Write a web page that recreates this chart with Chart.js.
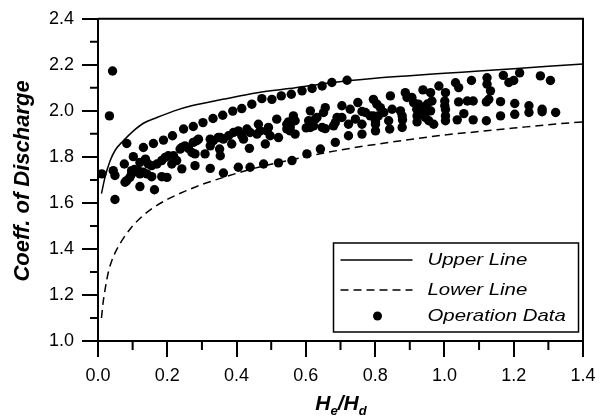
<!DOCTYPE html>
<html lang="en">
<head>
  <meta charset="UTF-8">
  <title>Coeff. of Discharge</title>
  <style>
    html, body {
      margin: 0;
      padding: 0;
      background: white;
    }
    .chart-container {
      width: 605px;
      height: 418px;
    }
  </style>
</head>
<body>
  <div class="chart-container">
    <canvas id="cd-chart"></canvas>
  </div>

  <script src="https://cdn.jsdelivr.net/npm/chart.js@4.4.1/dist/chart.umd.min.js"></script>
  <script>
    // upper / lower envelope lines
    const UPPER_X = [0.01, 0.02, 0.035, 0.05, 0.073, 0.1, 0.13, 0.17, 0.22, 0.27, 0.36, 0.46, 0.57, 0.67, 0.8, 0.9, 1.0, 1.1, 1.2, 1.3, 1.4];
    const UPPER_Y = [1.64, 1.71, 1.783, 1.83, 1.87, 1.91, 1.945, 1.971, 2.0, 2.022, 2.05, 2.079, 2.10, 2.122, 2.142, 2.153, 2.163, 2.173, 2.183, 2.194, 2.204];

    const LOWER_X = [0.01, 0.015, 0.02, 0.03, 0.04, 0.055, 0.075, 0.1, 0.13, 0.16, 0.2, 0.25, 0.3, 0.36, 0.45, 0.55, 0.7, 0.85, 1.0, 1.1, 1.2, 1.3, 1.4];
    const LOWER_Y = [1.10, 1.17, 1.22, 1.30, 1.35, 1.40, 1.45, 1.50, 1.545, 1.58, 1.615, 1.65, 1.68, 1.71, 1.75, 1.785, 1.83, 1.865, 1.895, 1.91, 1.925, 1.94, 1.952];

    // operation data (He/Hd, Cd)
    const OP_X = [
      0.011, 0.042, 0.033, 0.049, 0.083, 0.044, 0.049, 0.076, 0.102, 0.097,
      0.097, 0.092, 0.083, 0.078, 0.121, 0.121, 0.116, 0.131, 0.121, 0.163,
      0.131, 0.160, 0.189, 0.215, 0.145, 0.155, 0.170, 0.184, 0.194, 0.203,
      0.213, 0.141, 0.155, 0.184, 0.199, 0.218, 0.227, 0.242,
      0.247, 0.275, 0.303, 0.332, 0.360, 0.389, 0.415, 0.444,
      0.242, 0.251, 0.261, 0.271, 0.280, 0.275, 0.285, 0.324, 0.333, 0.353,
      0.362, 0.377, 0.391, 0.405, 0.415, 0.430, 0.439, 0.324, 0.386, 0.309,
      0.351, 0.353, 0.437, 0.280, 0.324, 0.362, 0.405, 0.439,
      0.473, 0.502, 0.529, 0.558, 0.589, 0.618, 0.647, 0.675, 0.613, 0.656,
      0.651, 0.516, 0.550, 0.564, 0.569, 0.608, 0.618, 0.627, 0.622, 0.647,
      0.656, 0.685, 0.690, 0.680, 0.463, 0.468, 0.459, 0.492, 0.497, 0.483,
      0.521, 0.545, 0.555, 0.569, 0.601, 0.478, 0.521, 0.560, 0.603, 0.642,
      0.685,
      0.719, 0.704, 0.728, 0.750, 0.704, 0.723, 0.743, 0.762, 0.723, 0.762,
      0.795, 0.805, 0.815, 0.825, 0.809, 0.786, 0.772, 0.801, 0.801, 0.844,
      0.849, 0.839, 0.842, 0.873, 0.878, 0.879, 0.878, 0.887, 0.892, 0.906,
      0.911, 0.938, 0.925, 0.930, 0.920, 0.940, 0.921, 0.921, 0.945, 0.955,
      0.960, 0.951, 0.964, 0.960, 0.969, 0.984, 1.003, 1.001, 1.001, 1.003,
      1.003, 1.032, 1.041, 1.041, 1.066, 1.083, 1.037, 1.056, 1.083, 1.078,
      1.121, 1.123, 1.123, 1.133, 1.128, 1.121, 1.162, 1.162, 1.170, 1.186,
      1.200, 1.203, 1.203, 1.217, 1.244, 1.244, 1.277, 1.282, 1.282, 1.306,
      1.321, 1.003,
      0.545, 0.555, 0.632, 0.613, 0.762, 0.801, 0.795, 0.347, 0.237, 0.290,
      0.137, 0.105, 0.420, 0.488
    ];
    const OP_Y = [
      1.726, 2.173, 1.978, 1.615, 1.858, 1.740, 1.719, 1.769, 1.801, 1.740,
      1.726, 1.711, 1.697, 1.690, 1.776, 1.726, 1.740, 1.733, 1.671, 1.657,
      1.841, 1.858, 1.873, 1.892, 1.769, 1.762, 1.769, 1.784, 1.798, 1.805,
      1.769, 1.726, 1.714, 1.714, 1.711, 1.805, 1.784, 1.748,
      1.921, 1.932, 1.949, 1.967, 1.981, 1.999, 2.010, 2.029,
      1.841, 1.848, 1.837, 1.819, 1.813, 1.863, 1.870, 1.877, 1.870, 1.884,
      1.877, 1.892, 1.906, 1.913, 1.892, 1.921, 1.906, 1.848, 1.856, 1.813,
      1.834, 1.805, 1.837, 1.762, 1.750, 1.730, 1.755, 1.755,
      2.053, 2.050, 2.065, 2.072, 2.087, 2.097, 2.108, 2.123, 2.000, 2.014,
      1.993, 1.964, 1.952, 1.978, 1.957, 1.957, 1.949, 1.964, 1.935, 1.928,
      1.923, 1.949, 1.971, 1.935, 1.942, 1.913, 1.899, 1.928, 1.892, 1.856,
      1.884, 1.921, 1.913, 1.899, 1.926, 1.769, 1.774, 1.784, 1.813, 1.834,
      1.863,
      2.133, 2.022, 2.007, 2.036, 1.971, 1.942, 1.964, 1.942, 1.892, 1.899,
      2.050, 2.029, 2.014, 1.993, 1.978, 1.978, 1.993, 1.942, 1.913, 2.065,
      2.007, 1.957, 1.921, 2.000, 1.978, 1.961, 1.928, 2.079, 2.058, 2.058,
      2.036, 2.091, 2.029, 2.014, 2.007, 2.000, 1.978, 1.952, 1.971, 1.957,
      2.079, 2.030, 2.043, 2.000, 1.942, 2.108, 2.079, 2.043, 2.022, 1.978,
      1.957, 2.122, 2.101, 2.039, 2.043, 2.043, 1.961, 1.988, 1.961, 2.132,
      1.957, 2.144, 2.116, 2.087, 2.050, 2.039, 2.040, 1.978, 2.154, 2.123,
      2.132, 2.032, 1.985, 2.165, 2.022, 1.993, 2.152, 2.007, 1.996, 2.132,
      1.993, 2.006,
      1.942, 1.930, 1.971, 1.928, 1.997, 1.954, 1.978, 1.884, 1.834, 1.877,
      1.790, 1.745, 1.877, 1.913
    ];

    const X_MINOR = [0.1, 0.3, 0.5, 0.7, 0.9, 1.1, 1.3];
    const Y_MINOR = [1.1, 1.3, 1.5, 1.7, 1.9, 2.1, 2.3];

    const LEGEND_ITEMS = ['Upper Line', 'Lower Line', 'Operation Data'];

    const toPoints = (xs, ys) => xs.map((x, i) => ({ x, y: ys[i] }));

    // frame, minor ticks, axis titles and legend box
    const decorations = {
      id: 'decorations',
      afterDraw(chart) {
        const { ctx, chartArea: ca, scales } = chart;
        ctx.save();
        ctx.strokeStyle = '#000';
        ctx.fillStyle = '#000';

        // top & right frame
        ctx.lineWidth = 2;
        ctx.beginPath();
        ctx.moveTo(ca.left, ca.top);
        ctx.lineTo(ca.right, ca.top);
        ctx.lineTo(ca.right, ca.bottom);
        ctx.stroke();

        // minor ticks
        ctx.lineWidth = 2;
        ctx.beginPath();
        for (const v of X_MINOR) {
          const px = scales.x.getPixelForValue(v);
          ctx.moveTo(px, ca.bottom);
          ctx.lineTo(px, ca.bottom + 9);
        }
        for (const v of Y_MINOR) {
          const py = scales.y.getPixelForValue(v);
          ctx.moveTo(ca.left - 8, py);
          ctx.lineTo(ca.left, py);
        }
        ctx.stroke();

        // y title
        ctx.save();
        ctx.translate(23, (ca.top + ca.bottom) / 2 + 1);
        ctx.rotate(-Math.PI / 2);
        ctx.font = 'italic bold 22px "Liberation Sans", Arial, sans-serif';
        ctx.textAlign = 'center';
        ctx.textBaseline = 'middle';
        ctx.fillText('Coeff. of Discharge', 0, 0);
        ctx.restore();

        // x title: He/Hd
        const big = 'italic bold 21px "Liberation Sans", Arial, sans-serif';
        const small = 'italic bold 13px "Liberation Sans", Arial, sans-serif';
        const parts = [['H', big, 0], ['e', small, 5], ['/H', big, 0], ['d', small, 5]];
        let total = 0;
        for (const [t, f] of parts) {
          ctx.font = f;
          total += ctx.measureText(t).width;
        }
        let tx = 341 - total / 2;
        const baseY = 410;
        ctx.textAlign = 'left';
        ctx.textBaseline = 'alphabetic';
        for (const [t, f, dy] of parts) {
          ctx.font = f;
          ctx.fillText(t, tx, baseY + dy);
          tx += ctx.measureText(t).width;
        }

        // legend
        const bx = ca.right - 249.5;
        const by = ca.bottom - 98;
        const bw = 245;
        const bh = 89;
        ctx.fillStyle = '#fff';
        ctx.fillRect(bx, by, bw, bh);
        ctx.lineWidth = 1.5;
        ctx.strokeRect(bx, by, bw, bh);
        ctx.fillStyle = '#000';

        const rows = [by + 17, by + 47, by + 73];
        ctx.lineWidth = 1.5;
        ctx.beginPath();
        ctx.moveTo(bx + 7, rows[0]);
        ctx.lineTo(bx + 79, rows[0]);
        ctx.stroke();
        ctx.setLineDash([8, 5]);
        ctx.beginPath();
        ctx.moveTo(bx + 7, rows[1]);
        ctx.lineTo(bx + 79, rows[1]);
        ctx.stroke();
        ctx.setLineDash([]);
        ctx.beginPath();
        ctx.arc(bx + 44, rows[2], 4.5, 0, Math.PI * 2);
        ctx.fill();

        ctx.font = 'italic 17px "Liberation Sans", Arial, sans-serif';
        ctx.textBaseline = 'middle';
        LEGEND_ITEMS.forEach((label, i) => {
          ctx.save();
          ctx.translate(bx + 94, rows[i]);
          ctx.scale(1.2, 1);
          ctx.fillText(label, 0, 0);
          ctx.restore();
        });

        ctx.restore();
      }
    };

    const tickFont = { family: '"Liberation Sans", Arial, sans-serif', size: 18 };

    new Chart(document.getElementById('cd-chart'), {
      type: 'scatter',
      data: {
        datasets: [
          {
            label: 'Upper Line',
            data: toPoints(UPPER_X, UPPER_Y),
            showLine: true,
            borderColor: '#000',
            borderWidth: 1.5,
            pointRadius: 0,
            cubicInterpolationMode: 'monotone'
          },
          {
            label: 'Lower Line',
            data: toPoints(LOWER_X, LOWER_Y),
            showLine: true,
            borderColor: '#000',
            borderWidth: 1.5,
            borderDash: [8, 5],
            pointRadius: 0,
            cubicInterpolationMode: 'monotone'
          },
          {
            label: 'Operation Data',
            data: toPoints(OP_X, OP_Y),
            pointRadius: 4.7,
            pointBackgroundColor: '#000',
            pointBorderWidth: 0,
            showLine: false
          }
        ]
      },
      plugins: [decorations],
      options: {
        responsive: true,
        maintainAspectRatio: false,
        animation: false,
        layout: {
          padding: { left: 0, right: 22, top: 17, bottom: 0 }
        },
        plugins: {
          legend: { display: false },
          tooltip: { enabled: false }
        },
        scales: {
          x: {
            type: 'linear',
            min: 0,
            max: 1.4,
            afterFit: (scale) => { scale.height = 77; },
            ticks: {
              stepSize: 0.2,
              color: '#000',
              font: tickFont,
              padding: 8,
              maxRotation: 0,
              callback: (v) => v.toFixed(1)
            },
            grid: {
              drawOnChartArea: false,
              drawTicks: true,
              tickLength: 16,
              color: '#000',
              lineWidth: 2
            },
            border: { display: true, color: '#000', width: 2 }
          },
          y: {
            type: 'linear',
            min: 1.0,
            max: 2.4,
            afterFit: (scale) => { scale.width = 98; },
            ticks: {
              stepSize: 0.2,
              color: '#000',
              font: tickFont,
              padding: 8,
              callback: (v) => v.toFixed(1)
            },
            grid: {
              drawOnChartArea: false,
              drawTicks: true,
              tickLength: 16,
              color: '#000',
              lineWidth: 2
            },
            border: { display: true, color: '#000', width: 2 }
          }
        }
      }
    });
  </script>
</body>
</html>
